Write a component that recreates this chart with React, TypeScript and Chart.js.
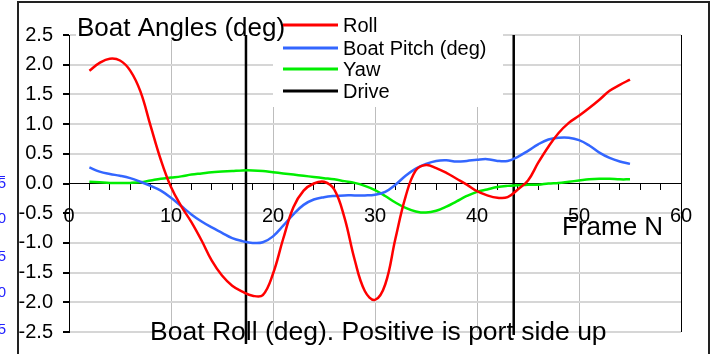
import React, { useEffect, useRef } from "react";
import { Chart, registerables } from "chart.js";

Chart.register(...registerables);

const frames = [2, 3, 4, 5, 6, 7, 8, 9, 10, 11, 12, 13, 14, 15, 16, 17, 18, 19, 20, 21, 22, 23, 24, 25, 26, 27, 28, 29, 30, 31, 32, 33, 34, 35, 36, 37, 38, 39, 40, 41, 42, 43, 44, 45, 46, 47, 48, 49, 50, 51, 52, 53, 54, 55];

const roll = [1.90, 2.03, 2.10, 2.07, 1.90, 1.55, 0.97, 0.40, -0.06, -0.38,
  -0.65, -0.96, -1.30, -1.55, -1.72, -1.82, -1.89, -1.88, -1.52, -0.93,
  -0.40, -0.12, 0.00, 0.03, -0.10, -0.57, -1.28, -1.81, -1.96, -1.70,
  -0.93, -0.22, 0.22, 0.31, 0.26, 0.18, 0.08, -0.02, -0.13, -0.20,
  -0.24, -0.23, -0.10, 0.05, 0.35, 0.62, 0.85, 1.02, 1.14, 1.27,
  1.41, 1.56, 1.66, 1.75];

const pitch = [0.27, 0.20, 0.16, 0.13, 0.09, 0.03, -0.04, -0.12, -0.24, -0.38,
  -0.52, -0.64, -0.74, -0.83, -0.92, -0.97, -1.00, -0.99, -0.89, -0.71,
  -0.52, -0.36, -0.27, -0.23, -0.21, -0.20, -0.20, -0.20, -0.19, -0.14,
  -0.02, 0.13, 0.25, 0.33, 0.38, 0.39, 0.37, 0.38, 0.40, 0.41,
  0.38, 0.38, 0.45, 0.55, 0.66, 0.74, 0.77, 0.77, 0.73, 0.64,
  0.52, 0.43, 0.37, 0.33];

const yaw = [0.03, 0.02, 0.01, 0.01, 0.01, 0.02, 0.05, 0.08, 0.10, 0.12,
  0.15, 0.17, 0.19, 0.20, 0.21, 0.22, 0.22, 0.21, 0.19, 0.17,
  0.15, 0.13, 0.11, 0.09, 0.07, 0.04, 0.01, -0.04, -0.11, -0.21,
  -0.32, -0.41, -0.47, -0.49, -0.46, -0.39, -0.30, -0.21, -0.14, -0.10,
  -0.06, -0.04, -0.03, -0.02, -0.02, 0.00, 0.01, 0.03, 0.05, 0.07,
  0.08, 0.08, 0.07, 0.07];

const driveX = [17.35, 43.6];
const driveTop = [2.5, 2.5];
const driveBottom = [-2.7, -2.55];

const seriesNames = ["Roll", "Boat Pitch (deg)", "Yaw", "Drive"];
const seriesColors = ["#ff0000", "#3366ff", "#00ee00", "#000000"];
const chartTitle = "Boat Angles (deg)";
const bottomNote = "Boat Roll (deg). Positive is port side up";
const xTitle = "Frame N";
const sideLabels = ["5", "0", "5", "0", "5"];
const sideLabelValues = [0, -0.6, -1.23, -1.84, -2.46];

const FONT = "'Liberation Sans', Arial, sans-serif";

const overlayPlugin = {
  id: "overlay",
  beforeDatasetsDraw(chart: any) {
    const ctx = chart.ctx;
    ctx.save();
    ctx.fillStyle = "#ffffff";
    ctx.fillRect(76, 4, 200, 36);
    ctx.fillRect(273, 4, 230, 103);
    ctx.fillStyle = "#000";
    ctx.font = `26px ${FONT}`;
    ctx.textAlign = "left";
    ctx.textBaseline = "alphabetic";
    ctx.fillText(chartTitle, 77, 36);
    const rows = [25, 48, 69, 91];
    ctx.font = `20px ${FONT}`;
    ctx.textBaseline = "middle";
    seriesNames.forEach((name, i) => {
      ctx.strokeStyle = seriesColors[i];
      ctx.lineWidth = 3;
      ctx.beginPath();
      ctx.moveTo(283, rows[i]);
      ctx.lineTo(338, rows[i]);
      ctx.stroke();
      ctx.fillStyle = "#000";
      ctx.fillText(name, 343, rows[i] + 1);
    });
    ctx.font = `26px ${FONT}`;
    ctx.textBaseline = "alphabetic";
    ctx.fillText(xTitle, 562, 235);
    ctx.font = `26.5px ${FONT}`;
    ctx.fillText(bottomNote, 150, 340);
    ctx.restore();
  },
  afterDraw(chart: any) {
    const ctx = chart.ctx;
    const yScale = chart.scales.y;
    ctx.save();
    ctx.strokeStyle = "#222";
    ctx.lineWidth = 2;
    ctx.beginPath();
    ctx.moveTo(18, 354);
    ctx.lineTo(18, 2);
    ctx.lineTo(709, 2);
    ctx.lineTo(709, 354);
    ctx.stroke();
    ctx.fillStyle = "#2222ff";
    ctx.font = `15px ${FONT}`;
    ctx.textAlign = "right";
    ctx.textBaseline = "middle";
    sideLabels.forEach((t, i) => {
      ctx.fillText(t, 6, yScale.getPixelForValue(sideLabelValues[i]));
    });
    ctx.strokeStyle = "#2222ff";
    ctx.lineWidth = 1;
    ctx.beginPath();
    ctx.moveTo(0, 176.5);
    ctx.lineTo(5, 176.5);
    ctx.stroke();
    ctx.restore();
  },
};

export default function App() {
  const canvasRef = useRef<HTMLCanvasElement | null>(null);

  useEffect(() => {
    const canvas = canvasRef.current;
    if (!canvas) return;
    const toPts = (ys: number[]) => frames.map((f, i) => ({ x: f, y: ys[i] }));
    const drivePts: any[] = [];
    driveX.forEach((x, i) => {
      if (i > 0) drivePts.push({ x: (driveX[i - 1] + x) / 2, y: null });
      drivePts.push({ x, y: driveTop[i] });
      drivePts.push({ x, y: driveBottom[i] });
    });

    const chart = new Chart(canvas, {
      type: "line",
      data: {
        datasets: [
          { label: seriesNames[0], data: toPts(roll), borderColor: seriesColors[0], borderWidth: 2.5, pointRadius: 0, tension: 0.4, fill: false },
          { label: seriesNames[1], data: toPts(pitch), borderColor: seriesColors[1], borderWidth: 2.5, pointRadius: 0, tension: 0.4, fill: false },
          { label: seriesNames[2], data: toPts(yaw), borderColor: seriesColors[2], borderWidth: 2.5, pointRadius: 0, tension: 0.4, fill: false },
          { label: seriesNames[3], data: drivePts, borderColor: seriesColors[3], borderWidth: 2.5, pointRadius: 0, tension: 0, fill: false, spanGaps: false, clip: false } as any,
        ],
      },
      options: {
        responsive: false,
        animation: false,
        events: [],
        layout: { padding: { left: 0, top: 35, right: 36, bottom: 17 } },
        plugins: { legend: { display: false }, title: { display: false }, tooltip: { enabled: false } },
        scales: {
          x: {
            type: "linear",
            position: { y: 0 } as any,
            min: 0,
            max: 60,
            ticks: {
              stepSize: 2,
              autoSkip: false,
              maxRotation: 0,
              color: "#000",
              padding: 15,
              font: { family: FONT, size: 20 },
              callback: (v: any) => (Number(v) % 10 === 0 ? String(v) : ""),
            },
            grid: {
              color: (c: any) => {
                const v = c.tick ? c.tick.value : 0;
                if (v % 10 !== 0) return "rgba(0,0,0,0)";
                return v === 60 ? "#000" : "#bdbdbd";
              },
              lineWidth: 1,
              tickColor: "#000",
              tickLength: 6,
              drawTicks: true,
            },
            border: { color: "#000", width: 1 },
          },
          y: {
            type: "linear",
            position: "left",
            min: -2.5,
            max: 2.5,
            afterFit: (s: any) => { s.width = 69; },
            ticks: {
              stepSize: 0.5,
              color: "#000",
              padding: 10,
              font: { family: FONT, size: 20 },
              callback: (v: any) => Number(v).toFixed(1),
            },
            grid: {
              color: (c: any) => (c.tick && Math.abs(c.tick.value) < 1e-9 ? "rgba(0,0,0,0)" : "#d6d6d6"),
              lineWidth: 2,
              tickColor: "#000",
              tickLength: 6,
            },
            border: { color: "#000", width: 1 },
          },
        },
      },
      plugins: [overlayPlugin],
    });
    return () => chart.destroy();
  }, []);

  return (
    <div style={{ position: "absolute", left: 0, top: 0, width: 717, height: 354, background: "#fff" }}>
      <canvas ref={canvasRef} width={717} height={354} style={{ display: "block" }} />
    </div>
  );
}
